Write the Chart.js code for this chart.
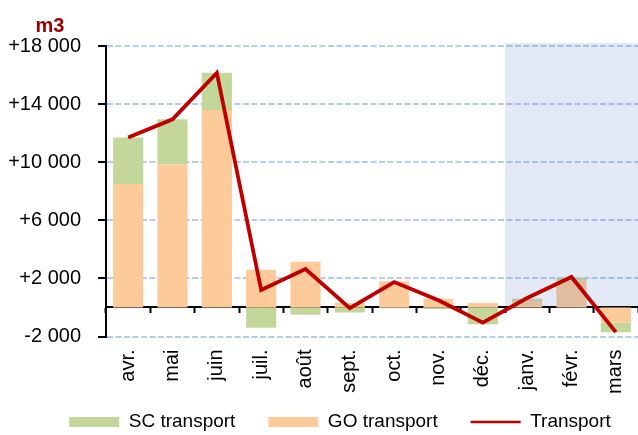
<!DOCTYPE html>
<html>
<head>
<meta charset="utf-8">
<script src="https://cdn.jsdelivr.net/npm/chart.js@4.4.1/dist/chart.umd.min.js"></script>
<style>
  html, body { margin: 0; padding: 0; background: #fff; overflow: hidden; }
</style>
</head>
<body>
<canvas id="myChart" width="638" height="435"></canvas>
<script>
// data
const months = ['avr.', 'mai', 'juin', 'juil.', 'août', 'sept.', 'oct.', 'nov.', 'déc.', 'janv.', 'févr.', 'mars']
const goTransport = [8500, 9850, 13600, 2600, 3150, 300, 1800, 600, 300, 450, 1850, -1050]
const scTransport = [3200, 3100, 2550, -1400, -500, -350, -50, -100, -1150, 150, 200, -650]
const transport = [11700, 12950, 16150, 1200, 2650, -50, 1750, 500, -1050, 650, 2100, -1700]
const yMin = -2000
const yMax = 18000
const yStep = 4000
const shadeFrom = 'janv.'
const legendOrder = ['SC transport', 'GO transport', 'Transport']

const FONT = '"Liberation Sans", Arial, sans-serif'
Chart.defaults.font.family = FONT
Chart.defaults.color = '#000'

function fmt(v) {
    const s = Math.abs(v).toString().replace(/\B(?=(\d{3})+(?!\d))/g, ' ')
    if (v > 0) return '+' + s
    if (v < 0) return '-' + s
    return s
}

// light blue band over the forecast months, drawn over the bars but under the line
const shadePlugin = {
    id: 'shade',
    beforeDatasetDraw(chart, args) {
        if (args.meta.type !== 'line') return
        const {ctx, chartArea: {top, right}, scales: {x, y}} = chart
        const i = months.indexOf(shadeFrom)
        const startX = (x.getPixelForValue(i - 1) + x.getPixelForValue(i)) / 2
        const zeroY = y.getPixelForValue(0)
        ctx.save()
        ctx.fillStyle = 'rgba(68, 114, 196, 0.15)'
        ctx.fillRect(startX, top - 3, right - startX, zeroY - 1 - (top - 3))
        ctx.restore()
    }
}

// nudge the legend row under the month labels, a bit right of centre like the original
const legendOffset = {
    id: 'legendOffset',
    afterLayout(chart) {
        const lg = chart.legend
        lg.left += 21
        lg.right += 21
        lg.top -= 23
        lg.bottom -= 23
    }
}

const unitLabel = {
    id: 'unitLabel',
    afterDraw(chart) {
        const {ctx, chartArea: {left, top}} = chart
        ctx.save()
        ctx.font = 'bold 20px ' + FONT
        ctx.fillStyle = '#990000'
        ctx.textAlign = 'center'
        ctx.fillText('m3', left - 56, top - 20)
        ctx.restore()
    }
}

const ctx = document.getElementById('myChart').getContext('2d')
const myChart = new Chart(ctx, {
    type: 'bar',
    data: {
        labels: months,
        datasets: [
            {
                label: 'GO transport',
                data: goTransport,
                backgroundColor: '#FDCA9A',
                borderWidth: 0,
                barPercentage: 0.68,
                categoryPercentage: 1,
                order: 1
            },
            {
                label: 'SC transport',
                data: scTransport,
                backgroundColor: '#C4D79B',
                borderWidth: 0,
                barPercentage: 0.68,
                categoryPercentage: 1,
                order: 1
            },
            {
                type: 'line',
                label: 'Transport',
                data: transport,
                borderColor: '#C00000',
                backgroundColor: '#C00000',
                borderWidth: 3.8,
                pointRadius: 0,
                tension: 0,
                stack: 'line',
                order: 0
            }
        ]
    },
    options: {
        responsive: false,
        animation: false,
        layout: {padding: {top: 46, left: 0, right: 0, bottom: -29.5}},
        scales: {
            x: {
                stacked: true,
                border: {display: false},
                grid: {display: false, drawTicks: false},
                ticks: {
                    autoSkip: false,
                    minRotation: 90,
                    maxRotation: 90,
                    padding: 13,
                    font: {size: 20}
                },
                afterFit: (scale) => {
                    scale.height = 66
                    scale.paddingLeft = 0
                    scale.paddingRight = 0
                }
            },
            xAxisZero: {
                type: 'category',
                position: {y: 0},
                offset: true,
                border: {display: true, color: '#000', width: 2},
                grid: {
                    offset: true,
                    drawOnChartArea: false,
                    drawTicks: true,
                    tickLength: 5,
                    tickWidth: 2,
                    tickColor: '#000'
                },
                ticks: {display: false}
            },
            y: {
                stacked: true,
                min: yMin,
                max: yMax,
                border: {display: true, color: '#000', width: 2, dash: [6, 2.5]},
                grid: {
                    color: 'rgba(140, 175, 235, 0.65)',
                    lineWidth: 2,
                    tickLength: 8,
                    tickWidth: 2,
                    tickColor: '#000'
                },
                ticks: {
                    stepSize: yStep,
                    padding: 17,
                    font: {size: 20},
                    callback: (v) => fmt(v)
                },
                afterFit: (scale) => { scale.width = 106 }
            }
        },
        plugins: {
            legend: {
                display: true,
                position: 'bottom',
                labels: {
                    usePointStyle: true,
                    pointStyleWidth: 50,
                    boxHeight: 10,
                    padding: 33,
                    font: {size: 19},
                    generateLabels(chart) {
                        const items = Chart.defaults.plugins.legend.labels.generateLabels(chart)
                        items.forEach(it => {
                            const isLine = chart.data.datasets[it.datasetIndex].type === 'line'
                            it.pointStyle = isLine ? 'line' : 'rect'
                            if (isLine) it.lineWidth = 2.5
                        })
                        return items
                    },
                    sort: (a, b) => legendOrder.indexOf(a.text) - legendOrder.indexOf(b.text)
                }
            },
            tooltip: {enabled: false}
        }
    },
    plugins: [shadePlugin, legendOffset, unitLabel]
})
</script>
</body>
</html>
